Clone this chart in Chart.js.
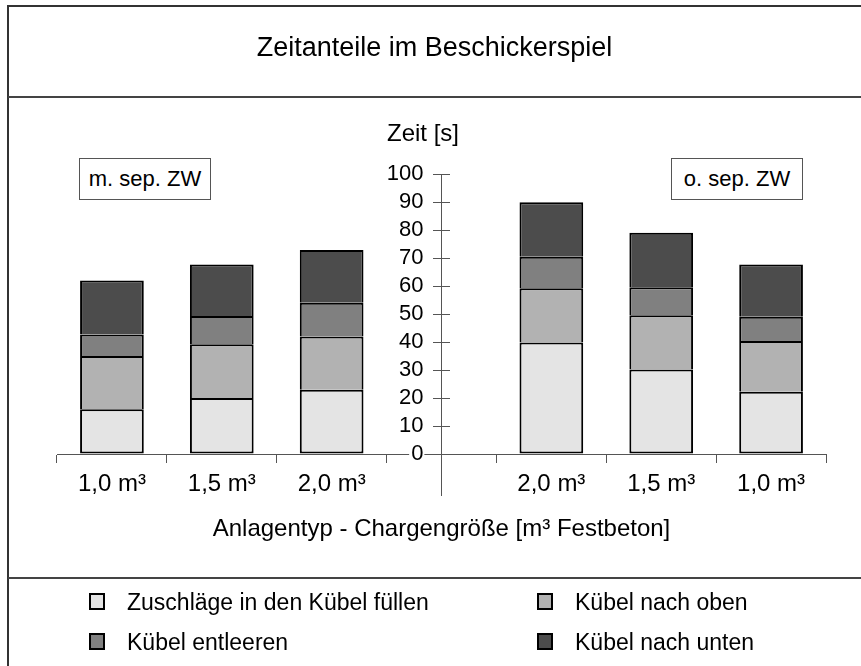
<!DOCTYPE html>
<html><head><meta charset="utf-8">
<script src="https://cdn.jsdelivr.net/npm/chart.js@4/dist/chart.umd.min.js"></script>
<style>
html,body{margin:0;padding:0;background:#fff;overflow:hidden;}
#page{position:relative;width:861px;height:666px;overflow:hidden;font-family:'Liberation Sans',Arial,sans-serif;color:#000;}
#frame{position:absolute;left:7px;top:5px;width:900px;height:700px;border-left:2px solid #333;border-top:2px solid #333;}
.sep{position:absolute;left:8px;width:860px;height:0;border-top:2px solid #444;}
#title{position:absolute;left:8px;width:853px;top:30px;text-align:center;font-size:27px;line-height:34px;}
#zeit{position:absolute;left:387px;top:119px;font-size:24px;line-height:28px;}
.note{position:absolute;top:158px;height:42px;width:132px;box-sizing:border-box;border:1px solid #555;font-size:22px;line-height:40px;text-align:center;background:#fff;}
canvas{position:absolute;left:0;top:0;}
.lg{position:absolute;height:28px;font-size:23px;line-height:28px;white-space:nowrap;}
.lg i{position:absolute;left:0;top:5px;width:16px;height:17px;box-sizing:border-box;border:2px solid #000;}
.lg span{position:absolute;left:38px;top:0;}
</style>
</head>
<body>
<div id="page">
  <canvas id="c" width="861" height="666"></canvas>
  <div id="frame"></div>
  <div class="sep" style="top:96px"></div>
  <div class="sep" style="top:577px"></div>
  <div id="title">Zeitanteile im Beschickerspiel</div>
  <div id="zeit">Zeit [s]</div>
  <div class="note" style="left:79px">m. sep. ZW</div>
  <div class="note" style="left:671px">o. sep. ZW</div>
  <div id="legend"></div>
</div>
<script>
// ---- data ----
const categories = ['1,0 m³', '1,5 m³', '2,0 m³', '', '2,0 m³', '1,5 m³', '1,0 m³'];
const seriesNames = ['Zuschläge in den Kübel füllen', 'Kübel nach oben', 'Kübel entleeren', 'Kübel nach unten'];
const zuschlaegeFuellen = [16, 20, 23, null, 39.8, 30.2, 22.3];
const kuebelNachOben    = [19, 19.2, 19, null, 19.4, 19.4, 18.1];
const kuebelEntleeren   = [7.7, 10.1, 12, null, 11.3, 10, 8.6];
const kuebelNachUnten   = [19.3, 18.4, 18.9, null, 19.4, 19.4, 18.7];
const seriesColors = ['#e4e4e4', '#b2b2b2', '#808080', '#4c4c4c'];
const yMin = -14.6, yMax = 100, yStep = 10;
const yAxisAt = 3;          // y axis crosses at the empty middle category
const yLabelsAt = 2.835;    // tick labels sit just left of the axis

const FONT = "'Liberation Sans', Arial, sans-serif";
const values = [zuschlaegeFuellen, kuebelNachOben, kuebelEntleeren, kuebelNachUnten];

const datasets = values.map((v, i) => ({
  label: seriesNames[i],
  data: v,
  backgroundColor: seriesColors[i],
  borderColor: '#000',
  borderWidth: {left: 2, right: 2, top: 2, bottom: i === 0 ? 2 : 0},
  borderSkipped: false,
  inflateAmount: 0,
  barPercentage: 0.58,
  categoryPercentage: 1,
  yAxisID: 'y',
  xAxisID: 'x'
}));

const keepPositive = s => { s.ticks = s.ticks.filter(t => t.value >= 0); };

const chart = new Chart(document.getElementById('c'), {
  type: 'bar',
  data: { labels: categories, datasets },
  options: {
    responsive: false,
    animation: false,
    layout: { padding: { left: 57, right: 35, top: 174, bottom: 171 } },
    plugins: { legend: { display: false }, tooltip: { enabled: false }, title: { display: false } },
    scales: {
      x: {
        type: 'category',
        position: { y: 0 },
        stacked: true,
        grid: { offset: true, drawOnChartArea: false, drawTicks: true, tickLength: 8, color: '#555' },
        border: { display: true, color: '#555', width: 1 },
        ticks: { color: '#000', font: { family: FONT, size: 24 }, padding: 8, maxRotation: 0, autoSkip: false },
        title: { display: true, text: 'Anlagentyp - Chargengröße [m³ Festbeton]', color: '#000',
                 font: { family: FONT, size: 24 }, padding: { top: 8, bottom: 0 } }
      },
      y: {
        type: 'linear',
        position: { x: yAxisAt },
        stacked: true,
        min: yMin, max: yMax,
        afterBuildTicks: keepPositive,
        ticks: { stepSize: yStep, display: false },
        grid: { drawOnChartArea: false, drawTicks: true, tickLength: 8, color: '#555' },
        border: { display: true, color: '#555', width: 1 }
      },
      y2: {
        type: 'linear',
        position: { x: yAxisAt },
        min: yMin, max: yMax,
        afterBuildTicks: keepPositive,
        ticks: { stepSize: yStep, display: false },
        grid: { drawOnChartArea: false, drawTicks: true, tickLength: -8, color: '#555' },
        border: { display: false }
      },
      yLabels: {
        type: 'linear',
        position: { x: yLabelsAt },
        min: yMin, max: yMax,
        afterBuildTicks: keepPositive,
        ticks: { stepSize: yStep, color: '#000', font: { family: FONT, size: 22 },
                 showLabelBackdrop: true, backdropColor: '#fff', backdropPadding: { left: 2, right: 1, top: 0, bottom: 0 } },
        grid: { display: false },
        border: { display: false }
      }
    }
  }
});

// HTML legend built from the chart's datasets (2 x 2 grid)
const legendSlots = [[89, 588], [537, 588], [89, 628], [537, 628]];
const lg = document.getElementById('legend');
chart.data.datasets.forEach((ds, i) => {
  const d = document.createElement('div');
  d.className = 'lg';
  d.style.left = legendSlots[i][0] + 'px';
  d.style.top = legendSlots[i][1] + 'px';
  const box = document.createElement('i');
  box.style.background = ds.backgroundColor;
  const t = document.createElement('span');
  t.textContent = ds.label;
  d.appendChild(box); d.appendChild(t);
  lg.appendChild(d);
});
</script>
</body></html>
